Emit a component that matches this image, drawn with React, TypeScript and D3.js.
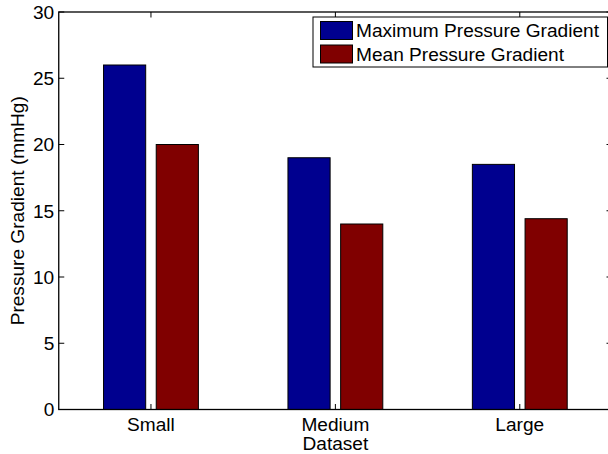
import * as d3 from "d3";

// data
const categories = ["Small", "Medium", "Large"];
const seriesNames = ["Maximum Pressure Gradient", "Mean Pressure Gradient"];
const maxGradient = [26, 19, 18.5];
const meanGradient = [20, 14, 14.4];
const yTicks = [0, 5, 10, 15, 20, 25, 30];
const seriesColors = ["#00008f", "#800000"];

export default function App() {
  const width = 608;
  const height = 454;

  // axes box (right edge sits just past the picture, like the original)
  const left = 58.75;
  const right = 612;
  const top = 12;
  const bottom = 409.5;
  const tickLen = 5.5;
  const font = "'Liberation Sans', Arial, Helvetica, sans-serif";
  const fs = 19.1;

  const xScale = d3.scaleLinear().domain([0.5, 3.5]).range([left, right]);
  const yScale = d3.scaleLinear().domain([0, 30]).range([bottom, top]);

  // matlab style grouped bars: offset and width in x units
  const offset = 0.142857;
  const barW = 0.228571;
  const series = [maxGradient, meanGradient];

  return (
    <svg
      width={width}
      height={height}
      style={{ position: "absolute", left: 0, top: 0, background: "#fff" }}
    >
      {/* bars */}
      {series.map((vals, s) =>
        vals.map((v, i) => {
          const cx = i + 1 + (s === 0 ? -offset : offset);
          const x0 = xScale(cx - barW / 2);
          const x1 = xScale(cx + barW / 2);
          return (
            <rect
              key={`${s}-${i}`}
              x={x0}
              y={yScale(v)}
              width={x1 - x0}
              height={yScale(0) - yScale(v)}
              fill={seriesColors[s]}
              stroke="#000"
              strokeWidth={1}
            />
          );
        })
      )}

      {/* axes box */}
      <rect
        x={left}
        y={top}
        width={right - left}
        height={bottom - top}
        fill="none"
        stroke="#000"
        strokeWidth={1.3}
      />

      {/* y ticks, both sides */}
      {yTicks.map((t) => (
        <g key={t}>
          <line x1={left} x2={left + tickLen} y1={yScale(t)} y2={yScale(t)} stroke="#000" />
          <line x1={right} x2={right - tickLen} y1={yScale(t)} y2={yScale(t)} stroke="#000" />
          <text
            x={left - 4.5}
            y={yScale(t) + 6.8}
            textAnchor="end"
            fontSize={fs}
            fontFamily={font}
            fill="#000"
          >
            {t}
          </text>
        </g>
      ))}

      {/* x ticks, top and bottom */}
      {categories.map((c, i) => (
        <g key={c}>
          <line x1={xScale(i + 1)} x2={xScale(i + 1)} y1={bottom} y2={bottom - tickLen} stroke="#000" />
          <line x1={xScale(i + 1)} x2={xScale(i + 1)} y1={top} y2={top + tickLen} stroke="#000" />
          <text
            x={xScale(i + 1)}
            y={431}
            textAnchor="middle"
            fontSize={fs}
            fontFamily={font}
            fill="#000"
          >
            {c}
          </text>
        </g>
      ))}

      {/* axis labels */}
      <text
        x={xScale(2)}
        y={449.5}
        textAnchor="middle"
        fontSize={fs}
        fontFamily={font}
        fill="#000"
      >
        Dataset
      </text>
      <text
        transform={`translate(23.5, ${(top + bottom) / 2}) rotate(-90)`}
        textAnchor="middle"
        fontSize={fs}
        fontFamily={font}
        fill="#000"
      >
        Pressure Gradient (mmHg)
      </text>

      {/* legend */}
      <g>
        <rect x={313} y={17} width={294.5} height={50} fill="#fff" stroke="#000" strokeWidth={1} />
        {seriesNames.map((name, s) => (
          <g key={name}>
            <rect
              x={320.5}
              y={21.5 + s * 23.5}
              width={32}
              height={18}
              fill={seriesColors[s]}
              stroke="#000"
              strokeWidth={1}
            />
            <text
              x={356}
              y={37.3 + s * 24}
              fontSize={fs}
              fontFamily={font}
              fill="#000"
            >
              {name}
            </text>
          </g>
        ))}
      </g>
    </svg>
  );
}
